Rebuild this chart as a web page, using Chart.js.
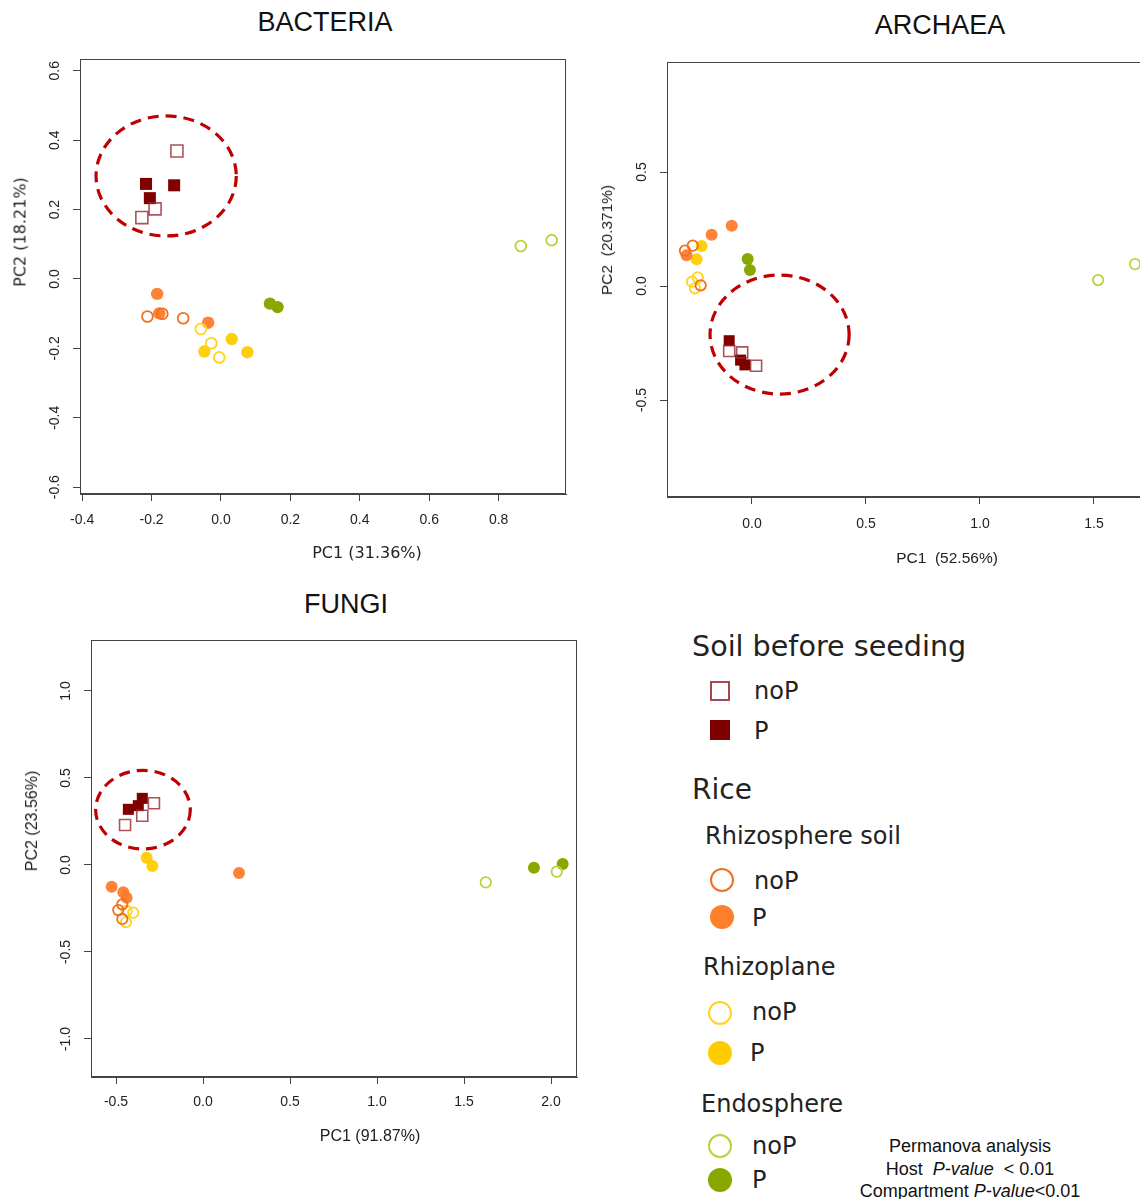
<!DOCTYPE html>
<html>
<head>
<meta charset="utf-8">
<title>PCA bacteria / archaea / fungi</title>
<script src="https://cdn.jsdelivr.net/npm/chart.js@4.4.1/dist/chart.umd.min.js"></script>
<style>
  html, body { margin: 0; padding: 0; background: #fff; }
  #page { position: relative; width: 1140px; height: 1199px; overflow: hidden;
          font-family: "Liberation Sans", Arial, sans-serif; color: #111; }
  .plot { position: absolute; }
  .ptitle { position: absolute; font-size: 27px; transform: translate(-50%, -50%); white-space: nowrap; }
  .axt { position: absolute; color: #222; white-space: nowrap; transform: translate(-50%, -50%); }
  .axt.v { transform: translate(-50%, -50%) rotate(-90deg); }
  .lg { position: absolute; font-family: "DejaVu Sans", Verdana, sans-serif; color: #222;
        white-space: nowrap; transform: translateY(-50%); }
  .sym { position: absolute; box-sizing: border-box; transform: translate(-50%, -50%); }
  .perm { position: absolute; left: 970px; font-size: 18px; color: #111; white-space: nowrap;
          transform: translate(-50%, -50%); }
</style>
</head>
<body>
<div id="page">
  <div class="ptitle" style="left:325px; top:22px">BACTERIA</div>
  <div class="ptitle" style="left:940px; top:25px">ARCHAEA</div>
  <div class="ptitle" style="left:346px; top:604px">FUNGI</div>

  <canvas id="bac" class="plot" width="580" height="540" style="left:0px; top:40px"></canvas>
  <canvas id="arc" class="plot" width="620" height="540" style="left:590px; top:45px"></canvas>
  <canvas id="fun" class="plot" width="590" height="540" style="left:0px; top:625px"></canvas>

  <!-- axis titles -->
  <div class="axt" style="left:367px; top:552px; font:16px 'DejaVu Sans', Verdana, sans-serif">PC1 (31.36%)</div>
  <div class="axt v" style="left:20px; top:232px; font:16px 'DejaVu Sans', Verdana, sans-serif">PC2 (18.21%)</div>
  <div class="axt" style="left:947px; top:558px; font-size:15.5px">PC1&nbsp; (52.56%)</div>
  <div class="axt v" style="left:607px; top:240px; font-size:15.5px">PC2&nbsp; (20.371%)</div>
  <div class="axt" style="left:370px; top:1136px; font-size:16px">PC1 (91.87%)</div>
  <div class="axt v" style="left:32px; top:821px; font-size:16px">PC2 (23.56%)</div>

  <!-- legend -->
  <div class="lg" style="left:692px; top:646px; font-size:28.6px">Soil before seeding</div>
  <div class="sym" style="left:720px; top:691px; width:20px; height:20px; border:2px solid rgba(150,40,45,0.85)"></div>
  <div class="lg" style="left:754px; top:691px; font-size:24px">noP</div>
  <div class="sym" style="left:720px; top:730px; width:20px; height:20px; background:#800000"></div>
  <div class="lg" style="left:754px; top:731px; font-size:24px">P</div>

  <div class="lg" style="left:692px; top:789px; font-size:28px">Rice</div>
  <div class="lg" style="left:705px; top:836px; font-size:24px">Rhizosphere soil</div>
  <div class="sym" style="left:722px; top:880px; width:24px; height:24px; border-radius:50%; border:2.5px solid #f0701f"></div>
  <div class="lg" style="left:754px; top:881px; font-size:24px">noP</div>
  <div class="sym" style="left:722px; top:917px; width:24px; height:24px; border-radius:50%; background:#ff7f2a"></div>
  <div class="lg" style="left:752px; top:918px; font-size:24px">P</div>

  <div class="lg" style="left:703px; top:967px; font-size:24px">Rhizoplane</div>
  <div class="sym" style="left:720px; top:1013px; width:24px; height:24px; border-radius:50%; border:2.5px solid #ffd31f"></div>
  <div class="lg" style="left:752px; top:1012px; font-size:24px">noP</div>
  <div class="sym" style="left:720px; top:1053px; width:24px; height:24px; border-radius:50%; background:#ffcc00"></div>
  <div class="lg" style="left:750px; top:1053px; font-size:24px">P</div>

  <div class="lg" style="left:701px; top:1104px; font-size:24px">Endosphere</div>
  <div class="sym" style="left:720px; top:1146px; width:24px; height:24px; border-radius:50%; border:2.5px solid #b8d43a"></div>
  <div class="lg" style="left:752px; top:1146px; font-size:24px">noP</div>
  <div class="sym" style="left:720px; top:1180px; width:24px; height:24px; border-radius:50%; background:#88a800"></div>
  <div class="lg" style="left:752px; top:1180px; font-size:24px">P</div>

  <div class="perm" style="top:1146px">Permanova analysis</div>
  <div class="perm" style="top:1169px">Host&nbsp; <i>P-value</i>&nbsp; &lt; 0.01</div>
  <div class="perm" style="top:1191px">Compartment <i>P-value</i>&lt;0.01</div>
</div>

<script>
// ---- data: [PC1, PC2] per sample ----

// BACTERIA
const bacSoilNoP = [[-0.127, 0.369], [-0.190, 0.202], [-0.228, 0.177]];
const bacSoilP = [[-0.216, 0.274], [-0.135, 0.270], [-0.205, 0.233]];
const bacRhizoNoP = [[-0.212, -0.108], [-0.169, -0.100], [-0.109, -0.113]];
const bacRhizoP = [[-0.184, -0.043], [-0.178, -0.099], [-0.037, -0.126]];
const bacPlaneNoP = [[-0.058, -0.144], [-0.028, -0.185], [-0.005, -0.226]];
const bacPlaneP = [[0.031, -0.173], [-0.048, -0.209], [0.076, -0.211]];
const bacEndoNoP = [[0.864, 0.095], [0.953, 0.112]];
const bacEndoP = [[0.141, -0.071], [0.163, -0.081]];
const bacXTicks = [-0.4, -0.2, 0.0, 0.2, 0.4, 0.6, 0.8];
const bacYTicks = [-0.6, -0.4, -0.2, 0.0, 0.2, 0.4, 0.6];
const bacRing = [-0.158, 0.297, 0.202, 0.173]; // centre x, centre y, radius x, radius y

// ARCHAEA
const arcSoilNoP = [[-0.100, -0.285], [-0.043, -0.291], [0.018, -0.350]];
const arcSoilP = [[-0.100, -0.240], [-0.050, -0.325], [-0.031, -0.346]];
const arcRhizoNoP = [[-0.294, 0.155], [-0.260, 0.177], [-0.225, 0.003]];
const arcRhizoP = [[-0.287, 0.135], [-0.177, 0.225], [-0.089, 0.264]];
const arcPlaneNoP = [[-0.263, 0.019], [-0.238, 0.038], [-0.250, -0.010]];
const arcPlaneP = [[-0.221, 0.175], [-0.243, 0.117]];
const arcEndoNoP = [[1.518, 0.026], [1.680, 0.096]];
const arcEndoP = [[-0.019, 0.118], [-0.009, 0.070]];
const arcXTicks = [0.0, 0.5, 1.0, 1.5];
const arcYTicks = [-0.5, 0.0, 0.5];
const arcRing = [0.121, -0.213, 0.305, 0.261];

// FUNGI
const funSoilNoP = [[-0.448, 0.230], [-0.349, 0.283], [-0.282, 0.355]];
const funSoilP = [[-0.429, 0.320], [-0.372, 0.341], [-0.349, 0.383]];
const funRhizoNoP = [[-0.487, -0.259], [-0.464, -0.226], [-0.464, -0.310]];
const funRhizoP = [[-0.525, -0.125], [-0.458, -0.157], [-0.439, -0.188], [0.207, -0.046]];
const funPlaneNoP = [[-0.439, -0.264], [-0.401, -0.274], [-0.443, -0.329]];
const funPlaneP = [[-0.324, 0.042], [-0.291, -0.006]];
const funEndoNoP = [[1.625, -0.100], [2.033, -0.038]];
const funEndoP = [[1.902, -0.016], [2.067, 0.006]];
const funXTicks = [-0.5, 0.0, 0.5, 1.0, 1.5, 2.0];
const funYTicks = [-1.0, -0.5, 0.0, 0.5, 1.0];
const funRing = [-0.345, 0.318, 0.272, 0.226];

// ---- styles ----
const CLEAR = "rgba(255,255,255,0)";
const STY = {
  soilNoP: { pointStyle: "rect", backgroundColor: CLEAR, borderColor: "rgba(150,40,45,0.8)", borderWidth: 1.6, sq: true },
  soilP: { pointStyle: "rect", backgroundColor: "#800000", borderColor: "#800000", borderWidth: 0, sq: true },
  rhizoNoP: { pointStyle: "circle", backgroundColor: CLEAR, borderColor: "#f0701f", borderWidth: 1.8 },
  rhizoP: { pointStyle: "circle", backgroundColor: "rgba(255,122,40,0.93)", borderColor: CLEAR, borderWidth: 0 },
  planeNoP: { pointStyle: "circle", backgroundColor: CLEAR, borderColor: "#ffd31f", borderWidth: 1.8 },
  planeP: { pointStyle: "circle", backgroundColor: "rgba(255,204,0,0.95)", borderColor: CLEAR, borderWidth: 0 },
  endoNoP: { pointStyle: "circle", backgroundColor: CLEAR, borderColor: "#b8d43a", borderWidth: 1.8 },
  endoP: { pointStyle: "circle", backgroundColor: "#88a800", borderColor: CLEAR, borderWidth: 0 },
};

Chart.defaults.font.family = '"Liberation Sans", Arial, sans-serif';
Chart.defaults.color = "#111";

function fmt(v) {
  return (Math.abs(v) < 1e-9 ? 0 : v).toFixed(1);
}

// dashed ring, box round the plot area and rotated y tick labels
const framePlugin = {
  id: "frame",
  afterDatasetsDraw(chart, args, opts) {
    const ring = opts.ring;
    if (!ring) return;
    const { x, y } = chart.scales;
    const ctx = chart.ctx;
    const cx = x.getPixelForValue(ring[0]);
    const cy = y.getPixelForValue(ring[1]);
    const rx = Math.abs(x.getPixelForValue(ring[0] + ring[2]) - cx);
    const ry = Math.abs(y.getPixelForValue(ring[1] + ring[3]) - cy);
    ctx.save();
    ctx.setLineDash([11, 7]);
    ctx.lineWidth = 3.2;
    ctx.strokeStyle = "#c00000";
    ctx.beginPath();
    ctx.ellipse(cx, cy, rx, ry, 0, 0, Math.PI * 2);
    ctx.stroke();
    ctx.restore();
  },
  afterDraw(chart, args, opts) {
    const ctx = chart.ctx;
    const a = chart.chartArea;
    ctx.save();
    ctx.strokeStyle = "#444";
    ctx.lineWidth = 1;
    ctx.strokeRect(Math.round(a.left) + 0.5, Math.round(a.top) + 0.5,
      Math.round(a.right - a.left) - 1, Math.round(a.bottom - a.top) - 1);

    const ys = chart.scales.y;
    ctx.fillStyle = "#222";
    ctx.font = '14px "Liberation Sans", Arial, sans-serif';
    ctx.textAlign = "center";
    ctx.textBaseline = "middle";
    ys.ticks.forEach((t) => {
      ctx.save();
      ctx.translate(a.left - opts.yLabOff, ys.getPixelForValue(t.value));
      ctx.rotate(-Math.PI / 2);
      ctx.fillText(fmt(t.value), 0, 0);
      ctx.restore();
    });
    ctx.restore();
  },
};

function makePlot(id, cfg) {
  // cfg.box: plot box [left, top, right, bottom], cfg.pos: canvas [x, y, w, h] (page px)
  const W = cfg.box[0] - cfg.pos[0];
  const H = cfg.pos[1] + cfg.pos[3] - cfg.box[3];
  const padTop = cfg.box[1] - cfg.pos[1];
  const padRight = cfg.pos[0] + cfg.pos[2] - cfg.box[2];
  const tl = 7;

  const datasets = cfg.groups.map(([pts, st]) => ({
    data: pts.map((p) => ({ x: p[0], y: p[1] })),
    pointStyle: st.pointStyle,
    backgroundColor: st.backgroundColor,
    borderColor: st.borderColor,
    borderWidth: st.borderWidth,
    pointRadius: st.sq ? cfg.sqR : (st.borderWidth ? cfg.cR - 0.8 : cfg.cR),
    showLine: false,
  }));

  return new Chart(document.getElementById(id), {
    type: "scatter",
    data: { datasets },
    plugins: [framePlugin],
    options: {
      responsive: false,
      animation: false,
      events: [],
      layout: { padding: { top: padTop, right: padRight, left: 0, bottom: 0 } },
      plugins: {
        legend: { display: false },
        tooltip: { enabled: false },
        frame: { ring: cfg.ring, yLabOff: 25 },
      },
      scales: {
        x: {
          type: "linear",
          position: "bottom",
          min: cfg.xRange[0],
          max: cfg.xRange[1],
          afterBuildTicks: (s) => { s.ticks = cfg.xTicks.map((v) => ({ value: v })); },
          afterFit: (s) => { s.height = H; },
          grid: { display: true, drawOnChartArea: false, drawTicks: true, tickLength: tl, color: "#444" },
          border: { display: true, color: "#444" },
          ticks: {
            font: { size: 14 }, color: "#222", autoSkip: false, maxRotation: 0,
            padding: cfg.xLabOff - tl - 8.4,
            callback: (v) => fmt(v),
          },
        },
        y: {
          type: "linear",
          position: "left",
          min: cfg.yRange[0],
          max: cfg.yRange[1],
          afterBuildTicks: (s) => { s.ticks = cfg.yTicks.map((v) => ({ value: v })); },
          afterFit: (s) => { s.width = W; },
          grid: { display: true, drawOnChartArea: false, drawTicks: true, tickLength: tl, color: "#444" },
          border: { display: true, color: "#444" },
          ticks: { display: false },
        },
      },
    },
  });
}

makePlot("bac", {
  pos: [0, 40, 580, 540],
  box: [80, 59, 566, 494],
  xRange: [-0.4063, 0.9942],
  yRange: [-0.6196, 0.634],
  xTicks: bacXTicks,
  yTicks: bacYTicks,
  xLabOff: 26,
  sqR: 8.5, cR: 6.2,
  ring: bacRing,
  groups: [
    [bacSoilNoP, STY.soilNoP], [bacSoilP, STY.soilP],
    [bacRhizoNoP, STY.rhizoNoP], [bacPlaneNoP, STY.planeNoP], [bacEndoNoP, STY.endoNoP],
    [bacRhizoP, STY.rhizoP], [bacPlaneP, STY.planeP], [bacEndoP, STY.endoP],
  ],
});

makePlot("arc", {
  pos: [590, 45, 620, 540],
  box: [667, 62, 1153, 497],
  xRange: [-0.3728, 1.7588],
  yRange: [-0.9254, 0.9825],
  xTicks: arcXTicks,
  yTicks: arcYTicks,
  xLabOff: 27,
  sqR: 7.8, cR: 6,
  ring: arcRing,
  groups: [
    [arcSoilNoP, STY.soilNoP], [arcSoilP, STY.soilP],
    [arcRhizoNoP, STY.rhizoNoP], [arcPlaneNoP, STY.planeNoP], [arcEndoNoP, STY.endoNoP],
    [arcRhizoP, STY.rhizoP], [arcPlaneP, STY.planeP], [arcEndoP, STY.endoP],
  ],
});

makePlot("fun", {
  pos: [0, 625, 590, 540],
  box: [91, 640, 577, 1077],
  xRange: [-0.6437, 2.1494],
  yRange: [-1.2184, 1.2931],
  xTicks: funXTicks,
  yTicks: funYTicks,
  xLabOff: 25,
  sqR: 7.8, cR: 6,
  ring: funRing,
  groups: [
    [funSoilNoP, STY.soilNoP], [funSoilP, STY.soilP],
    [funRhizoNoP, STY.rhizoNoP], [funPlaneNoP, STY.planeNoP], [funEndoNoP, STY.endoNoP],
    [funRhizoP, STY.rhizoP], [funPlaneP, STY.planeP], [funEndoP, STY.endoP],
  ],
});
</script>
</body>
</html>
